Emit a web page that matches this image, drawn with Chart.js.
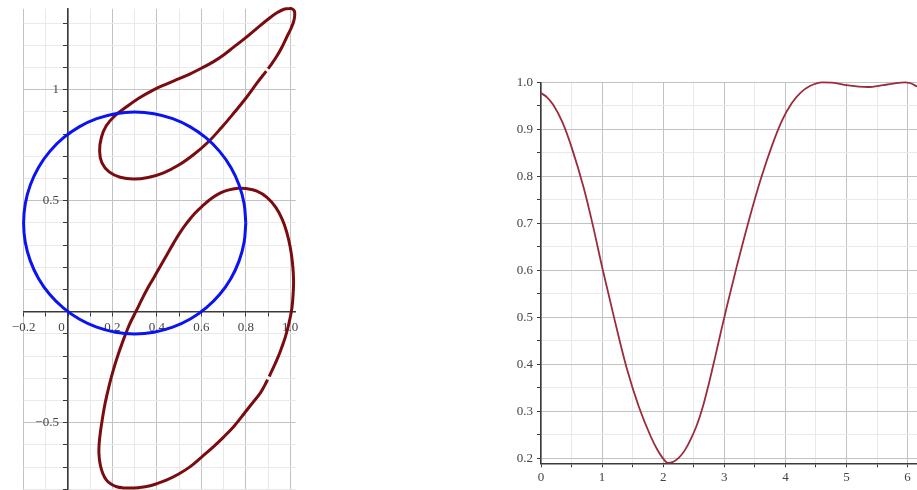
<!DOCTYPE html>
<html><head><meta charset="utf-8">
<script src="https://cdn.jsdelivr.net/npm/chart.js@4/dist/chart.umd.min.js"></script>
<style>
html,body{margin:0;padding:0;background:#fff;width:917px;height:490px;overflow:hidden}
#c1{position:absolute;left:0;top:0;width:300px;height:490px}
#c2{position:absolute;left:500px;top:0;width:417px;height:490px}
</style></head><body>
<canvas id="c1" width="300" height="490"></canvas>
<canvas id="c2" width="417" height="490"></canvas>
<script>
// ---------- Left plot data (parametric curves) ----------
const upperLoopX = [0.892,0.85,0.80,0.745,0.69,0.632,0.57,0.50,0.43,0.36,0.294,0.235,0.185,0.152,0.142,0.150,0.172,0.21,0.26,0.32,0.385,0.445,0.50,0.55,0.60,0.655,0.70,0.745,0.80,0.85,0.90,0.94,0.975,1.003,1.018,1.02,1.016,1.003,0.985,0.963,0.94,0.915,0.900];
const upperLoopY = [1.084,1.03,0.962,0.894,0.829,0.766,0.712,0.662,0.626,0.605,0.598,0.606,0.630,0.672,0.725,0.785,0.838,0.882,0.921,0.963,1.0,1.027,1.05,1.072,1.097,1.127,1.157,1.192,1.235,1.277,1.318,1.347,1.364,1.367,1.356,1.335,1.31,1.275,1.239,1.193,1.152,1.115,1.095];
const lowerLoopX = [0.905,0.925,0.945,0.962,0.977,0.99,1.0,1.008,1.013,1.015,1.01,1.0,0.985,0.965,0.935,0.895,0.85,0.80,0.765,0.72,0.684,0.645,0.61,0.57,0.534,0.503,0.475,0.445,0.414,0.384,0.354,0.331,0.309,0.279,0.264,0.249,0.226,0.204,0.185,0.167,0.155,0.146,0.14,0.139,0.145,0.156,0.172,0.193,0.219,0.248,0.279,0.315,0.354,0.40,0.445,0.50,0.55,0.60,0.655,0.70,0.745,0.78,0.805,0.835,0.865,0.885,0.898];
const lowerLoopY = [-0.292,-0.25,-0.205,-0.16,-0.117,-0.07,-0.025,0.02,0.08,0.143,0.22,0.29,0.355,0.414,0.47,0.515,0.543,0.555,0.556,0.548,0.534,0.51,0.481,0.443,0.399,0.355,0.309,0.257,0.203,0.150,0.098,0.053,0.008,-0.052,-0.088,-0.127,-0.192,-0.262,-0.333,-0.412,-0.48,-0.54,-0.595,-0.64,-0.69,-0.728,-0.758,-0.777,-0.789,-0.794,-0.795,-0.793,-0.788,-0.775,-0.758,-0.73,-0.698,-0.656,-0.608,-0.565,-0.518,-0.475,-0.443,-0.405,-0.367,-0.332,-0.306];
const circleX = [0.8,0.7924,0.7698,0.733,0.683,0.6214,0.55,0.471,0.3868,0.3,0.2132,0.129,0.05,-0.0214,-0.083,-0.133,-0.1698,-0.1924,-0.2,-0.1924,-0.1698,-0.133,-0.083,-0.0214,0.05,0.129,0.2132,0.3,0.3868,0.471,0.55,0.6214,0.683,0.733,0.7698,0.7924,0.8];
const circleY = [0.4,0.4868,0.571,0.65,0.7214,0.783,0.833,0.8698,0.8924,0.9,0.8924,0.8698,0.833,0.783,0.7214,0.65,0.571,0.4868,0.4,0.3132,0.229,0.15,0.0786,0.017,-0.033,-0.0698,-0.0924,-0.1,-0.0924,-0.0698,-0.033,0.017,0.0786,0.15,0.229,0.3132,0.4];
const leftXTicks = [-0.2,-0.1,0,0.1,0.2,0.3,0.4,0.5,0.6,0.7,0.8,0.9,1.0];
const leftXLabels = {"-0.2":"\u22120.2","0":"0\u2002\u2002","0.2":"0.2","0.4":"0.4","0.6":"0.6","0.8":"0.8","1":"1.0"};
const leftYTicks = [-0.8,-0.7,-0.6,-0.5,-0.4,-0.3,-0.2,-0.1,0,0.1,0.2,0.3,0.4,0.5,0.6,0.7,0.8,0.9,1.0,1.1,1.2,1.3];
const leftYLabels = {"-0.5":"\u22120.5\u2002\u2009","0.5":"0.5\u2002\u2009","1":"1\u2002\u2009"};

// ---------- Right plot data ----------
const rightX = [0,0.1,0.2,0.35,0.5,0.7,0.85,1.0,1.2,1.4,1.6,1.8,1.9,2.0,2.08,2.16,2.25,2.35,2.45,2.55,2.65,2.75,2.85,2.95,3.05,3.2,3.4,3.6,3.8,3.95,4.1,4.25,4.4,4.6,4.8,5.0,5.2,5.35,5.6,5.85,5.95,6.05,6.154];
const rightY = [0.977,0.968,0.952,0.915,0.862,0.775,0.695,0.607,0.497,0.393,0.31,0.245,0.219,0.199,0.19,0.192,0.2,0.216,0.24,0.27,0.31,0.36,0.415,0.472,0.527,0.606,0.705,0.795,0.872,0.92,0.955,0.978,0.992,1.0,0.999,0.994,0.991,0.990,0.994,0.999,1.0,0.998,0.991];
const rightXTicks = [0,0.5,1,1.5,2,2.5,3,3.5,4,4.5,5,5.5,6];
const rightXLabels = {"0":"0","1":"1","2":"2","3":"3","4":"4","5":"5","6":"6"};
const rightYTicks = [0.2,0.25,0.3,0.35,0.4,0.45,0.5,0.55,0.6,0.65,0.7,0.75,0.8,0.85,0.9,0.95,1.0];
const rightYLabels = {"0.2":"0.2","0.3":"0.3","0.4":"0.4","0.5":"0.5","0.6":"0.6","0.7":"0.7","0.8":"0.8","0.9":"0.9","1":"1.0"};

const zip = (xs, ys) => xs.map((x, i) => ({x, y: ys[i]}));
const key = v => String(Math.round(v * 100) / 100);
const MAJOR = '#c2c2c2', MINOR = '#e9e9e9', AXIS = '#3a3a3a';
const FONT = {family: '"Liberation Serif", "Times New Roman", serif', size: 13};
const zeroPad = s => { s.paddingLeft = 0; s.paddingRight = 0; s.paddingTop = 0; s.paddingBottom = 0; };

new Chart(document.getElementById('c1'), {
  type: 'scatter',
  data: {datasets: [
    {data: zip(circleX, circleY), showLine: true, borderColor: '#0a14f0', borderWidth: 3, pointRadius: 0, tension: 0.4, clip: false},
    {data: zip(upperLoopX, upperLoopY), showLine: true, borderColor: '#7a0c10', borderWidth: 3, pointRadius: 0, tension: 0.4, clip: false},
    {data: zip(lowerLoopX, lowerLoopY), showLine: true, borderColor: '#7a0c10', borderWidth: 3, pointRadius: 0, tension: 0.4, clip: false}
  ]},
  options: {
    responsive: false, animation: false,
    layout: {padding: {left: 23.6, right: 4.2, top: 8.8, bottom: 0}},
    plugins: {legend: {display: false}, tooltip: {enabled: false}},
    scales: {
      x: {
        type: 'linear', min: -0.2, max: 1.025, position: {y: 0},
        afterBuildTicks: s => { s.ticks = leftXTicks.map(v => ({value: v})); },
        afterFit: zeroPad,
        grid: {color: c => (Math.round(c.tick.value * 10) % 2 === 0 ? MAJOR : MINOR), tickLength: 4, tickColor: AXIS, lineWidth: 1},
        border: {display: true, color: AXIS, width: 1.5},
        ticks: {font: FONT, color: '#444', padding: 4, maxRotation: 0, autoSkip: false,
          callback: v => leftXLabels[key(v)] || ''}
      },
      y: {
        type: 'linear', min: -0.8035, max: 1.365, position: {x: 0},
        afterBuildTicks: s => { s.ticks = leftYTicks.map(v => ({value: v})); },
        afterFit: zeroPad,
        grid: {color: c => (Math.round(c.tick.value * 10) % 5 === 0 ? MAJOR : MINOR), tickLength: 4, tickColor: AXIS, lineWidth: 1},
        border: {display: true, color: AXIS, width: 1.5},
        ticks: {font: FONT, color: '#444', padding: 4, autoSkip: false,
          callback: v => leftYLabels[key(v)] || ''}
      }
    }
  }
});

new Chart(document.getElementById('c2'), {
  type: 'scatter',
  data: {datasets: [
    {data: zip(rightX, rightY), showLine: true, borderColor: '#9b2d3a', borderWidth: 1.8, pointRadius: 0, cubicInterpolationMode: 'monotone', clip: false}
  ]},
  options: {
    responsive: false, animation: false,
    layout: {padding: {left: 0, right: 0, top: 82.3, bottom: 0}},
    plugins: {legend: {display: false}, tooltip: {enabled: false}},
    scales: {
      x: {
        type: 'linear', min: 0, max: 6.154, position: 'bottom',
        afterBuildTicks: s => { s.ticks = rightXTicks.map(v => ({value: v})); },
        afterFit: s => { zeroPad(s); s.height = 26.7; },
        grid: {color: c => (Math.round(c.tick.value * 2) % 2 === 0 ? MAJOR : MINOR), tickLength: 4, tickColor: AXIS, lineWidth: 1},
        border: {display: true, color: AXIS, width: 1.5},
        ticks: {font: FONT, color: '#444', padding: 2, maxRotation: 0, autoSkip: false,
          callback: v => rightXLabels[key(v)] || ''}
      },
      y: {
        type: 'linear', min: 0.189, max: 1.0, position: 'left',
        afterBuildTicks: s => { s.ticks = rightYTicks.map(v => ({value: v})); },
        afterFit: s => { zeroPad(s); s.width = 41; },
        grid: {color: c => (Math.round(c.tick.value * 20) % 2 === 0 ? MAJOR : MINOR), tickLength: 4, tickColor: AXIS, lineWidth: 1},
        border: {display: true, color: AXIS, width: 1.5},
        ticks: {font: FONT, color: '#444', padding: 4, autoSkip: false,
          callback: v => rightYLabels[key(v)] || ''}
      }
    }
  }
});
</script>
</body></html>
